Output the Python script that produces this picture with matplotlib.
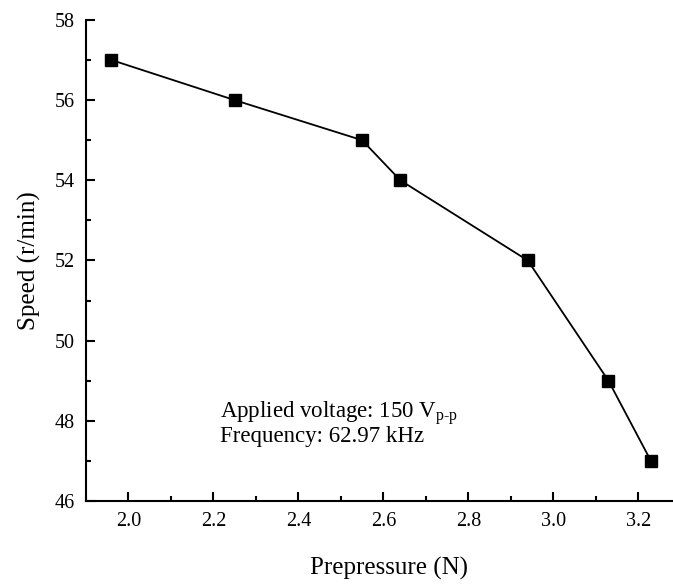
import matplotlib
matplotlib.use('Agg')
import matplotlib.pyplot as plt
from matplotlib.ticker import MultipleLocator

prepressure = [1.96, 2.25, 2.55, 2.64, 2.94, 3.13, 3.23]
speed = [57, 56, 55, 54, 52, 49, 47]

plt.rcParams['font.family'] = ['Liberation Serif', 'DejaVu Serif']
plt.rcParams['mathtext.fontset'] = 'custom'
plt.rcParams['mathtext.rm'] = 'Liberation Serif'

fig = plt.figure(figsize=(6.73, 5.86), dpi=100)
ax = fig.add_axes([0.1278, 0.145, 0.871, 0.821])

ax.plot(prepressure, speed, color='black', linewidth=1.3,
        marker='s', markersize=8, markerfacecolor='black')

ax.set_xlim(1.9, 3.28)
ax.set_ylim(46, 58)
ax.xaxis.set_major_locator(MultipleLocator(0.2))
ax.xaxis.set_minor_locator(MultipleLocator(0.1))
ax.yaxis.set_major_locator(MultipleLocator(2))
ax.yaxis.set_minor_locator(MultipleLocator(1))
ax.xaxis.set_major_formatter(plt.FormatStrFormatter('%.1f'))

for side in ['top', 'right']:
    ax.spines[side].set_visible(False)
for side in ['left', 'bottom']:
    ax.spines[side].set_linewidth(1.5)

ax.tick_params(which='both', direction='in', width=1.5, labelsize=14.5)
ax.tick_params(which='major', length=6.5, pad=8)
ax.tick_params(which='minor', length=3.3)

ax.set_xlabel('Prepressure (N)', fontsize=18)
ax.xaxis.set_label_coords(0.517, -0.116)
ax.set_ylabel('Speed (r/min)', fontsize=18, labelpad=10)

# both lines in one text block
ax.text(2.216, 47.48,
        'Applied voltage: 150 V$_{\\mathrm{p\\text{-}p}}$\nFrequency: 62.97 kHz',
        fontsize=16.5, va='baseline', linespacing=0.88)

fig.savefig('out.png', dpi=100)
plt.close()
